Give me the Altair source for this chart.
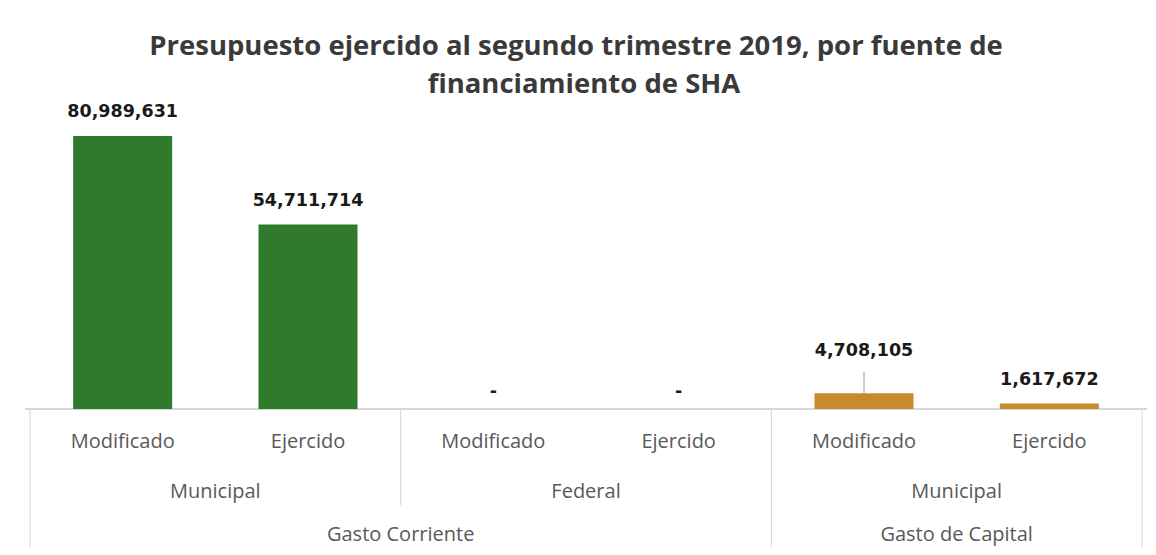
import altair as alt
import pandas as pd

# ---- data ----
categorias = ["Gasto Corriente", "Gasto Corriente", "Gasto Corriente", "Gasto Corriente",
              "Gasto de Capital", "Gasto de Capital"]
fuentes = ["Municipal", "Municipal", "Federal", "Federal", "Municipal", "Municipal"]
tipos = ["Modificado", "Ejercido", "Modificado", "Ejercido", "Modificado", "Ejercido"]
valores = [80989631, 54711714, 0, 0, 4708105, 1617672]
titulo = ["Presupuesto ejercido al segundo trimestre 2019, por fuente de",
          "financiamiento de SHA"]
colores_cat = ["Gasto Corriente", "Gasto de Capital"]
colores = ["#2f7a2b", "#c58c2c"]

W, H = 1122, 301
YMAX = 89.3e6

df = pd.DataFrame({"categoria": categorias, "fuente": fuentes, "tipo": tipos, "valor": valores})
df["pos"] = df.index + 0.5
df["grupo"] = df["categoria"] + "|" + df["fuente"]

lvl2 = (df.groupby(["categoria", "fuente", "grupo"], sort=False)["pos"]
        .agg(["mean", "min", "max"]).reset_index())
lvl3 = df.groupby("categoria", sort=False)["pos"].agg(["mean", "min", "max"]).reset_index()

# separator lines: category edges are long, sub-group edges short
cat_edges = set(list(lvl3["min"] - 0.5) + list(lvl3["max"] + 0.5))
edges = sorted(set(list(lvl2["min"] - 0.5) + list(lvl2["max"] + 0.5)))
sep = pd.DataFrame({"x": edges, "largo": [e in cat_edges for e in edges]})

xscale = alt.Scale(domain=[0, len(valores)], nice=False, zero=False)
xs = alt.X("pos:Q", scale=xscale, axis=None)
ys = alt.Y("valor:Q", scale=alt.Scale(domain=[0, YMAX], nice=False), axis=None)

base = alt.Chart(df)

bars = base.mark_bar(size=99).encode(
    x=xs, y=ys,
    color=alt.Color("categoria:N", scale=alt.Scale(domain=colores_cat, range=colores), legend=None),
)

label_font = dict(font="DejaVu Sans", fontWeight="bold", fontSize=17.5, color="#1a1a1a")
especial = "datum.categoria == 'Gasto de Capital' && datum.tipo == 'Modificado'"

labels = base.transform_filter(
    f"datum.valor > 0 && !({especial})"
).mark_text(baseline="middle", dy=-24, **label_font).encode(
    x=xs, y=ys, text=alt.Text("valor:Q", format=",.0f"))

lab_special = base.transform_filter(especial).mark_text(
    baseline="middle", dy=-42, **label_font).encode(
    x=xs, y=ys, text=alt.Text("valor:Q", format=",.0f"))

leader = base.transform_filter(especial).mark_rule(color="#9a9a9a", strokeWidth=1).encode(
    x=xs, y=ys, y2=alt.value(264))

zeros = base.transform_filter("datum.valor == 0").mark_text(
    baseline="middle", dy=-17, **label_font).encode(x=xs, y=ys, text=alt.value("-"))

axis_font = dict(font="Open Sans", fontSize=20, color="#595959", baseline="middle")

lvl1_text = base.mark_text(**axis_font).encode(x=xs, y=alt.value(334), text="tipo:N")

lvl2_text = alt.Chart(lvl2).mark_text(**axis_font).encode(
    x=alt.X("mean:Q", scale=xscale, axis=None), y=alt.value(384), text="fuente:N")

lvl3_text = alt.Chart(lvl3).mark_text(**axis_font).encode(
    x=alt.X("mean:Q", scale=xscale, axis=None), y=alt.value(427), text="categoria:N")

sep_x = alt.X("x:Q", scale=xscale, axis=None)
sep_long = alt.Chart(sep).transform_filter("datum.largo").mark_rule(
    color="#d4d4d4", strokeWidth=1).encode(x=sep_x, y=alt.value(H), y2=alt.value(445))
sep_short = alt.Chart(sep).transform_filter("!datum.largo").mark_rule(
    color="#d4d4d4", strokeWidth=1).encode(x=sep_x, y=alt.value(H), y2=alt.value(397))
baseline = alt.Chart(sep).mark_rule(color="#d4d4d4", strokeWidth=1).encode(
    x=alt.value(0), x2=alt.value(W), y=alt.value(H))

title_font = dict(font="Open Sans", fontWeight="bold", fontSize=27.5, color="#3a3a3a",
                  baseline="middle", align="center")
t1 = alt.Chart(pd.DataFrame({"t": [titulo[0]]})).mark_text(**title_font).encode(
    text="t:N", x=alt.value(W / 2 - 10), y=alt.value(-61))
t2 = alt.Chart(pd.DataFrame({"t": [titulo[1]]})).mark_text(**title_font).encode(
    text="t:N", x=alt.value(W / 2 - 2), y=alt.value(-23))

chart = alt.layer(
    baseline, sep_long, sep_short, bars, leader, labels, lab_special, zeros,
    lvl1_text, lvl2_text, lvl3_text, t1, t2
).properties(
    width=W, height=H,
    autosize=alt.AutoSizeParams(type="none"),
    padding={"left": 17, "top": 100, "right": 1, "bottom": 138},
).configure(
    background="white",
    view=alt.ViewConfig(strokeWidth=0, stroke="transparent"),
)

chart.save("out.html", embed_options={"renderer": "svg", "actions": False})
